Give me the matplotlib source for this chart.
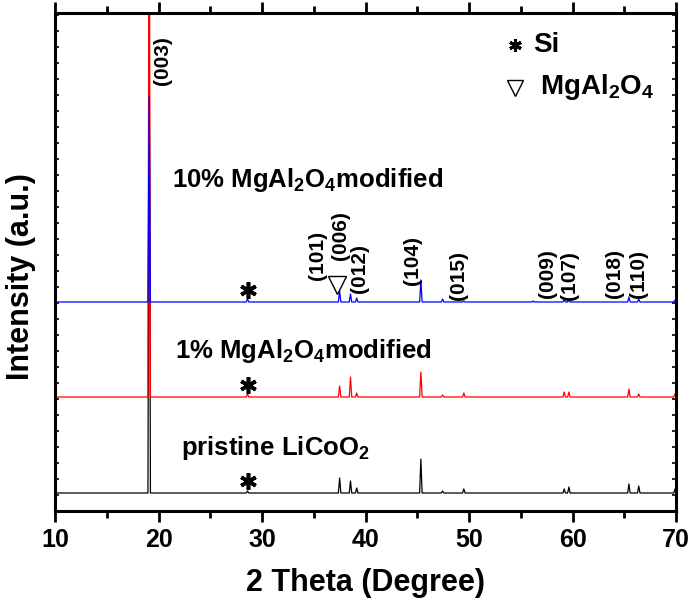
import numpy as np
import matplotlib.pyplot as plt
from matplotlib.ticker import MultipleLocator, NullFormatter

plt.rcParams['font.family'] = ['Liberation Sans', 'DejaVu Sans']
plt.rcParams['font.weight'] = 'bold'
plt.rcParams['mathtext.default'] = 'regular'

# peak positions (2 theta) and heights above each pattern's baseline
peak_pos = [19.1, 28.6, 37.5, 38.55, 39.15, 45.35, 47.45, 49.5, 56.2, 59.2, 59.65, 65.45, 66.4, 69.9]
black_h = [480, 2, 15, 12, 5, 34, 2, 4, 0, 4, 6, 9, 7, 4]
red_h = [600, 3, 11, 20, 4, 25, 2, 4, 0, 5, 5, 8, 3, 3]
blue_h = [205, 3, 11, 8, 4, 22, 3, 1, 1, 2, 2, 5, 3, 2]
black_base = 18
red_base = 114
blue_base = 209

# reflection labels
hkl_labels = ['(003)', '(101)', '(006)', '(012)', '(104)', '(015)', '(009)', '(107)', '(018)', '(110)']
hkl_x = [20.4, 35.4, 37.55, 39.45, 44.5, 48.95, 57.55, 59.75, 64.1, 66.35]
hkl_y = [426, 231, 251, 218, 226, 211, 213, 211, 213, 213]

si_x = 28.6
si_y = [30, 126, 221]


def trace(heights, base, w=0.12):
    xs, ys = [10], [base]
    for p, h in zip(peak_pos, heights):
        xs += [p - w, p, p + w]
        ys += [base, base + h, base]
    xs.append(70)
    ys.append(base)
    return xs, ys


fig = plt.figure(figsize=(6.94, 6.0), dpi=100)
ax = fig.add_axes([55 / 694, 1 - 511 / 600, 621 / 694, 498 / 600])

for h, base, c in [(black_h, black_base, 'black'), (red_h, red_base, 'red'), (blue_h, blue_base, 'blue')]:
    xs, ys = trace(h, base)
    ax.plot(xs, ys, color=c, lw=0.9)

ax.set_xlim(10, 70)
ax.set_ylim(0, 498)

for lab, x, y in zip(hkl_labels, hkl_x, hkl_y):
    ax.text(x, y, lab, rotation=90, ha='center', va='bottom', fontsize=15, fontweight='bold')

# 6-arm asterisks for Si and the open triangle for MgAl2O4
ax.plot([si_x] * 3, si_y, ls='none', marker=(6, 2, 0), ms=12, mew=2.6, color='black')
ax.plot([37.25], [226], ls='none', marker='v', ms=13, mfc='none', mec='black', mew=1.0)

ax.text(21.3, 324, r'10% MgAl$_2$O$_4$modified', fontsize=18.5, fontweight='bold')
ax.text(21.6, 153, r'1% MgAl$_2$O$_4$modified', fontsize=18.5, fontweight='bold')
ax.text(22.2, 56, r'pristine LiCoO$_2$', fontsize=18.5, fontweight='bold')

# legend drawn as text
ax.plot([54.4], [466], ls='none', marker=(6, 2, 0), ms=9, mew=2.2, color='black')
ax.text(56.2, 466, 'Si', fontsize=20, fontweight='bold', va='center')
ax.plot([54.4], [423], ls='none', marker='v', ms=12, mfc='none', mec='black', mew=1.0)
ax.text(56.9, 417, r'MgAl$_2$O$_4$', fontsize=20, fontweight='bold', va='baseline')

ax.xaxis.set_major_locator(MultipleLocator(10))
ax.xaxis.set_minor_locator(MultipleLocator(5))
ax.yaxis.set_major_locator(MultipleLocator(16))
ax.yaxis.set_major_formatter(NullFormatter())
ax.tick_params(axis='x', which='major', direction='out', length=8, width=2, labelsize=18, pad=4)
ax.tick_params(axis='x', which='minor', direction='out', length=5, width=2)
ax.tick_params(axis='x', which='both', top=True, labeltop=False)
ax.tick_params(axis='y', which='major', direction='in', length=3, width=1.2, right=True)
for lab in ax.get_xticklabels():
    lab.set_fontweight('bold')
for s in ax.spines.values():
    s.set_linewidth(2.2)

ax.set_xlabel('2 Theta (Degree)', fontsize=22, fontweight='bold', labelpad=12)
ax.set_ylabel('Intensity (a.u.)', fontsize=22, fontweight='bold')
ax.yaxis.set_label_coords(-0.03, 0.47)

fig.savefig('out.png', dpi=100)
